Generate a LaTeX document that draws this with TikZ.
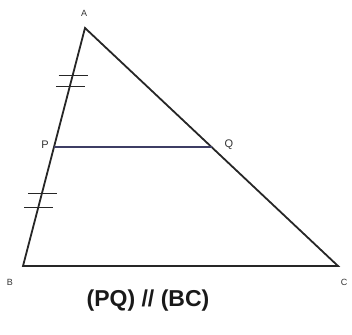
\documentclass[tikz,border=0pt]{standalone}
\usepackage{fontspec}
\setmainfont{Liberation Sans}
\usetikzlibrary{calc}
\definecolor{pqcol}{RGB}{62,62,100}
\begin{document}
\begin{tikzpicture}[x=1pt,y=-1pt,
  side/.style={line width=1.8pt,draw=black!85},
  mid/.style={line width=1.7pt,draw=pqcol},
  tick/.style={line width=1.2pt,draw=black!85},
  lbl/.style={font=\fontsize{9}{9}\selectfont,text=black!80}]
\useasboundingbox (0,0) rectangle (352,334);
\coordinate (A) at (85,28);
\coordinate (B) at (23,266);
\coordinate (C) at (338,266);
\coordinate (P) at ($ (A)!0.5!(B) $);
\coordinate (Q) at ($ (A)!0.5!(C) $);
\draw[side,line join=miter] (B) -- (A) -- (C) -- cycle;
\draw[mid] (P) -- (Q);
% tick marks
\coordinate (t1) at ($ (A)!0.2!(B) $);
\coordinate (t2) at ($ (A)!0.245!(B) $);
\coordinate (t3) at ($ (A)!0.695!(B) $);
\coordinate (t4) at ($ (A)!0.755!(B) $);
\foreach \t in {t1,t2,t3,t4}{\draw[tick] ($(\t)+(-14,0)$) -- ($(\t)+(15,0)$);}
\node[lbl] (lA) at (84,13) {A};
\node[lbl,font=\fontsize{11}{11}\selectfont] (lP) at (45,145) {P};
\node[lbl,font=\fontsize{11}{11}\selectfont] (lQ) at (229,145) {Q};
\node[lbl] (lB) at (10,282) {B};
\node[lbl] (lC) at (344,282) {C};
\node[font=\fontsize{23}{23}\selectfont\bfseries,text=black!90] (cap) at (148,301) {(PQ) // (BC)};
\end{tikzpicture}
\end{document}
